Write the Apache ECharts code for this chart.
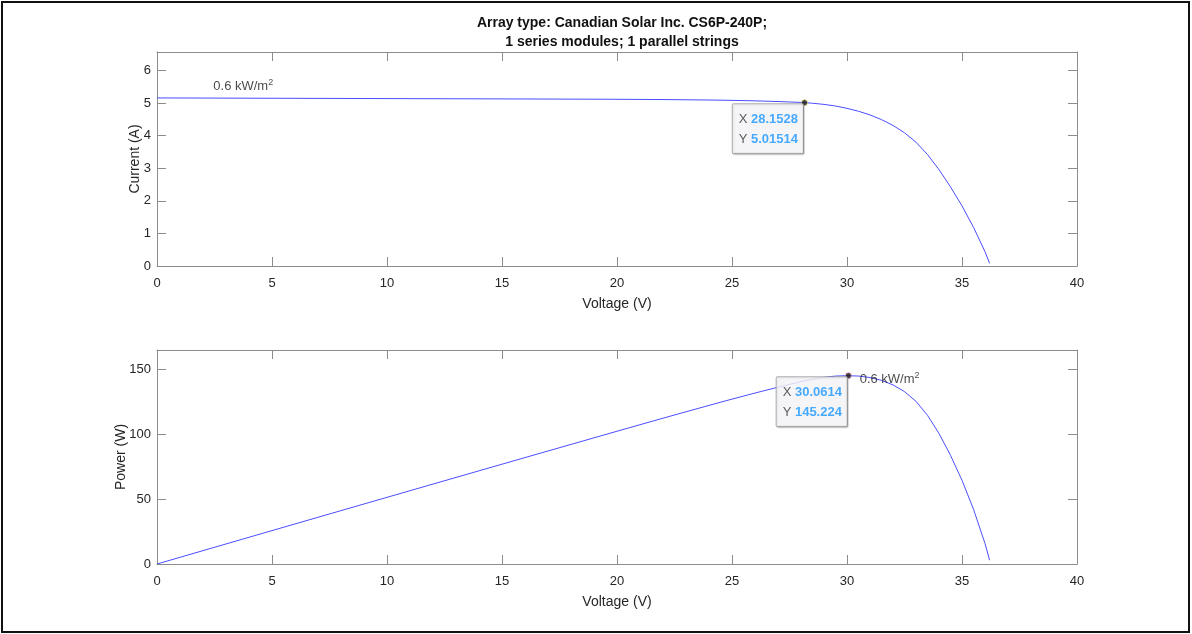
<!DOCTYPE html>
<html><head><meta charset="utf-8">
<script src="https://cdn.jsdelivr.net/npm/echarts@6/dist/echarts.min.js"></script>
<style>html,body{margin:0;padding:0;background:#fff}#c{width:1192px;height:634px}</style>
</head><body><div id="c"></div>
<script>
// ---- data ----
const titleLines = ['Array type: Canadian Solar Inc. CS6P-240P;', '1 series modules; 1 parallel strings'];
const voltage = [0,2,4,6,8,10,12,14,16,18,20,22,24,25,26,27,28,28.1528,28.5,29,29.5,30,30.0614,30.5,31,31.5,32,32.5,33,33.5,34,34.5,35,35.5,36,36.2];
const current = [5.160,5.156,5.152,5.148,5.144,5.140,5.136,5.132,5.128,5.123,5.118,5.110,5.096,5.085,5.070,5.049,5.022,5.01514,4.997,4.962,4.912,4.840,4.8310,4.751,4.638,4.495,4.315,4.090,3.800,3.422,2.959,2.429,1.844,1.189,0.439,0.08];
const power = [0,10.31,20.61,30.89,41.15,51.40,61.63,71.85,82.05,92.21,102.36,112.42,122.30,127.13,131.82,136.32,140.62,141.19,142.41,143.90,144.90,145.20,145.224,144.91,143.78,141.59,138.08,132.93,125.40,114.64,100.61,83.80,64.54,42.21,15.80,2.90];
const tipIV = [28.1528, 5.01514];
const tipPV = [30.0614, 145.224];
const irradianceLabel = '0.6 kW/m';
const annotIV = [3.75, 5.52];
const annotPV = [30.55, 142.4];
const xTicks = [0, 40, 5];
const yTicksI = [0, 6.57, 1];
const yTicksP = [0, 165, 50];

// ---- chart ----
const FONT = "'Liberation Sans', Arial, Helvetica, sans-serif";
const AX = '#8c8c8c', LBL = '#262626';
const chart = echarts.init(document.getElementById('c'), null, {renderer: 'canvas'});
const ivData = voltage.map((v, i) => [v, current[i]]);
const pvData = voltage.map((v, i) => [v, power[i]]);

function xAx(gi, pos, withLabel) {
  return {
    type: 'value', gridIndex: gi, position: pos, min: xTicks[0], max: xTicks[1], interval: xTicks[2],
    name: withLabel ? 'Voltage (V)' : '', nameLocation: 'middle', nameGap: 31,
    nameTextStyle: {fontFamily: FONT, fontSize: 14, color: LBL},
    axisLine: {show: true, onZero: false, lineStyle: {color: AX, width: 1}},
    axisTick: {show: true, inside: true, length: 9, lineStyle: {color: AX}},
    axisLabel: {show: withLabel, fontFamily: FONT, fontSize: 13, color: LBL, margin: 11},
    splitLine: {show: false}
  };
}
function yAx(gi, pos, t, name, gap, withLabel) {
  return {
    type: 'value', gridIndex: gi, position: pos, min: t[0], max: t[1], interval: t[2],
    name: withLabel ? name : '', nameLocation: 'middle', nameGap: gap, nameRotate: 90,
    nameMoveOverlap: false,
    nameTextStyle: {fontFamily: FONT, fontSize: 14, color: LBL},
    axisLine: {show: true, onZero: false, lineStyle: {color: AX, width: 1}},
    axisTick: {show: true, inside: true, length: 9, lineStyle: {color: AX}},
    axisLabel: {show: withLabel, fontFamily: FONT, fontSize: 13, color: LBL, margin: 6, showMaxLabel: false},
    splitLine: {show: false}
  };
}
function tipSeries(xi, yi, pt, border) {
  return {
    type: 'scatter', xAxisIndex: xi, yAxisIndex: yi, data: [pt], symbolSize: 6, z: 10,
    itemStyle: {color: '#111', borderColor: border, borderWidth: 1},
    label: {
      show: true, position: [2, 5], align: 'right', verticalAlign: 'top',
      formatter: p => '{k|X }{v|' + p.value[0] + '}\n{k|Y }{v|' + p.value[1] + '}',
      backgroundColor: '#fbfbff', borderColor: '#9a9a9a', borderWidth: 1, borderRadius: 1,
      padding: [5, 5, 4, 6],
      shadowColor: 'rgba(0,0,0,0.18)', shadowBlur: 1, shadowOffsetX: 1, shadowOffsetY: 1,
      rich: {
        k: {fontFamily: FONT, fontSize: 13, color: '#333', lineHeight: 20},
        v: {fontFamily: FONT, fontSize: 13, color: '#1a96ff', fontWeight: 'bold', lineHeight: 20}
      }
    },
    silent: true
  };
}
function annotSeries(xi, yi, pt, align) {
  return {
    type: 'scatter', xAxisIndex: xi, yAxisIndex: yi, data: [pt], symbolSize: 0, z: 9,
    label: {
      show: true, position: [0, 0], align: align, verticalAlign: 'middle',
      formatter: '{t|' + irradianceLabel + '}{s|2}',
      rich: {
        t: {fontFamily: FONT, fontSize: 13, color: '#1a1a1a', lineHeight: 16},
        s: {fontFamily: FONT, fontSize: 9, color: '#1a1a1a', verticalAlign: 'top', lineHeight: 16, padding: [0, 0, 9, 0]}
      }
    },
    silent: true
  };
}

chart.setOption({
  animation: false,
  backgroundColor: '#ffffff',
  title: {
    text: titleLines.join('\n'), left: 617, top: 9, textAlign: 'center',
    textStyle: {fontFamily: FONT, fontSize: 14, fontWeight: 'bold', color: '#111', lineHeight: 19}
  },
  grid: [
    {left: 157, top: 52, width: 920, height: 214, show: false},
    {left: 157, top: 350, width: 920, height: 214, show: false}
  ],
  xAxis: [xAx(0, 'bottom', true), xAx(0, 'top', false), xAx(1, 'bottom', true), xAx(1, 'top', false)],
  yAxis: [
    yAx(0, 'left', yTicksI, 'Current (A)', 15, true), yAx(0, 'right', yTicksI, '', 0, false),
    yAx(1, 'left', yTicksP, 'Power (W)', 29, true), yAx(1, 'right', yTicksP, '', 0, false)
  ],
  series: [
    {type: 'line', xAxisIndex: 0, yAxisIndex: 0, data: ivData, showSymbol: false,
     lineStyle: {color: '#4d4dff', width: 1}, silent: true},
    {type: 'line', xAxisIndex: 2, yAxisIndex: 2, data: pvData, showSymbol: false,
     lineStyle: {color: '#4d4dff', width: 1}, silent: true},
    annotSeries(0, 0, annotIV, 'center'),
    annotSeries(2, 2, annotPV, 'left'),
    tipSeries(0, 0, tipIV, '#e6d98a'),
    tipSeries(2, 2, tipPV, '#f2a6d0')
  ],
  graphic: [{
    type: 'rect', shape: {x: 2, y: 2, width: 1187, height: 630},
    style: {fill: 'none', stroke: '#111', lineWidth: 2}, z: 100, silent: true
  }]
});
</script></body></html>
